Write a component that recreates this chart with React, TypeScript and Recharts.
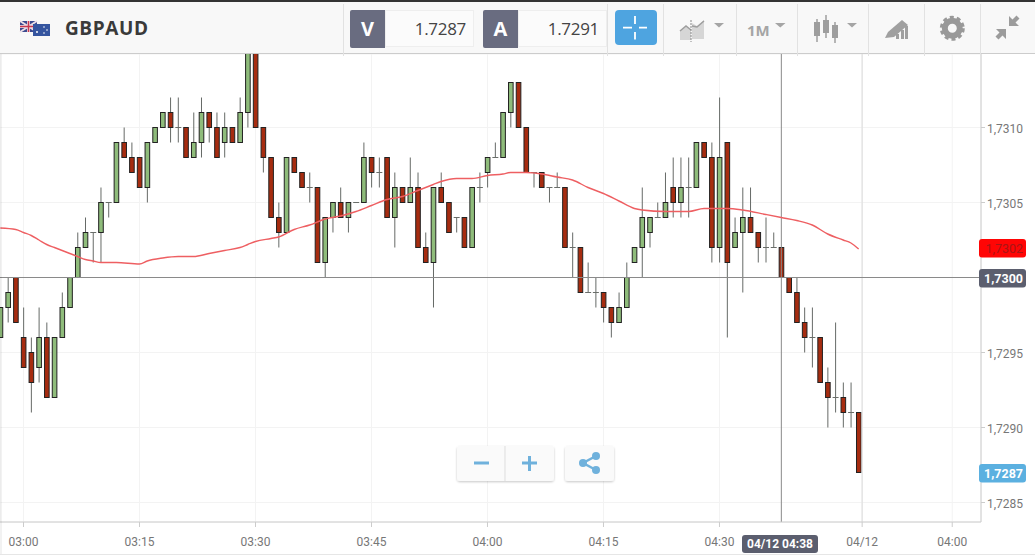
import { ComposedChart, Bar, Line, XAxis, YAxis, CartesianGrid, ReferenceLine, ReferenceDot } from 'recharts';

// minutes after 03:00, one candle per minute
const minutes = [
  -3, -2, -1, 0, 1, 2, 3, 4, 5, 6, 7, 8, 9, 10, 11, 12, 13, 14, 15, 16,
  17, 18, 19, 20, 21, 22, 23, 24, 25, 26, 27, 28, 29, 30, 31, 32, 33, 34, 35, 36,
  37, 38, 39, 40, 41, 42, 43, 44, 45, 46, 47, 48, 49, 50, 51, 52, 53, 54, 55, 56,
  57, 58, 59, 60, 61, 62, 63, 64, 65, 66, 67, 68, 69, 70, 71, 72, 73, 74, 75, 76,
  77, 78, 79, 80, 81, 82, 83, 84, 85, 86, 87, 88, 89, 90, 91, 92, 93, 94, 95, 96,
  97, 98, 99, 100, 101, 102, 103, 104, 105, 106, 107, 108,
];
const opens = [
  1.7296, 1.7298, 1.7300, 1.7296, 1.7295, 1.7294, 1.7296, 1.7292, 1.7296, 1.7298,
  1.7300, 1.7302, 1.7303, 1.7303, 1.7305, 1.7305, 1.7309, 1.7308, 1.7308, 1.7306,
  1.7309, 1.7310, 1.7311, 1.7310, 1.7310, 1.7308, 1.7309, 1.7311, 1.7310, 1.7309,
  1.7310, 1.7309, 1.7311, 1.7315, 1.7310, 1.7308, 1.7304, 1.7303, 1.7308, 1.7307,
  1.7306, 1.7306, 1.7301, 1.7304, 1.7305, 1.7304, 1.7305, 1.7305, 1.7308, 1.7307,
  1.7308, 1.7304, 1.7306, 1.7305, 1.7306, 1.7302, 1.7301, 1.7306, 1.7305, 1.7304,
  1.7304, 1.7302, 1.7306, 1.7307, 1.7308, 1.7308, 1.7311, 1.7313, 1.7310, 1.7307,
  1.7307, 1.7306, 1.7306, 1.7306, 1.7302, 1.7302, 1.7299, 1.7299, 1.7299, 1.7298,
  1.7297, 1.7298, 1.7301, 1.7302, 1.7303, 1.7304, 1.7304, 1.7306, 1.7305, 1.7306,
  1.7306, 1.7309, 1.7308, 1.7302, 1.7309, 1.7302, 1.7303, 1.7304, 1.7303, 1.7302,
  1.7302, 1.7302, 1.7300, 1.7299, 1.7297, 1.7296, 1.7296, 1.7293, 1.7292, 1.7292,
  1.7291, 1.7291,
];
const closes = [
  1.7298, 1.7299, 1.7297, 1.7294, 1.7293, 1.7296, 1.7292, 1.7296, 1.7298, 1.7300,
  1.7302, 1.7303, 1.7303, 1.7305, 1.7305, 1.7309, 1.7308, 1.7307, 1.7306, 1.7309,
  1.7310, 1.7311, 1.7310, 1.7310, 1.7308, 1.7309, 1.7311, 1.7310, 1.7308, 1.7310,
  1.7309, 1.7311, 1.7315, 1.7310, 1.7308, 1.7304, 1.7303, 1.7308, 1.7307, 1.7306,
  1.7306, 1.7301, 1.7304, 1.7305, 1.7304, 1.7305, 1.7305, 1.7308, 1.7307, 1.7307,
  1.7304, 1.7306, 1.7305, 1.7306, 1.7302, 1.7301, 1.7306, 1.7305, 1.7303, 1.7304,
  1.7302, 1.7306, 1.7306, 1.7308, 1.7308, 1.7311, 1.7313, 1.7310, 1.7307, 1.7307,
  1.7306, 1.7306, 1.7306, 1.7302, 1.7302, 1.7299, 1.7299, 1.7299, 1.7298, 1.7297,
  1.7298, 1.7300, 1.7302, 1.7304, 1.7304, 1.7304, 1.7305, 1.7305, 1.7306, 1.7306,
  1.7309, 1.7308, 1.7302, 1.7308, 1.7301, 1.7303, 1.7304, 1.7303, 1.7302, 1.7302,
  1.7302, 1.7300, 1.7299, 1.7297, 1.7296, 1.7296, 1.7293, 1.7292, 1.7292, 1.7291,
  1.7291, 1.7287,
];
const highs = [
  1.7298, 1.7300, 1.7300, 1.7298, 1.7296, 1.7298, 1.7297, 1.7296, 1.7299, 1.7300,
  1.7303, 1.7304, 1.7303, 1.7306, 1.7305, 1.7309, 1.7310, 1.7309, 1.7308, 1.7309,
  1.7310, 1.7311, 1.7312, 1.7312, 1.7310, 1.7311, 1.7312, 1.7311, 1.7311, 1.7311,
  1.7310, 1.7312, 1.7315, 1.7315, 1.7310, 1.7308, 1.7305, 1.7308, 1.7308, 1.7307,
  1.7307, 1.7306, 1.7304, 1.7305, 1.7306, 1.7305, 1.7305, 1.7309, 1.7308, 1.7308,
  1.7308, 1.7307, 1.7306, 1.7308, 1.7307, 1.7303, 1.7306, 1.7307, 1.7305, 1.7304,
  1.7304, 1.7306, 1.7307, 1.7308, 1.7309, 1.7311, 1.7313, 1.7313, 1.7310, 1.7307,
  1.7307, 1.7306, 1.7307, 1.7306, 1.7303, 1.7302, 1.7301, 1.7300, 1.7299, 1.7298,
  1.7299, 1.7301, 1.7302, 1.7306, 1.7304, 1.7305, 1.7307, 1.7308, 1.7308, 1.7308,
  1.7309, 1.7309, 1.7309, 1.7312, 1.7309, 1.7304, 1.7306, 1.7306, 1.7303, 1.7304,
  1.7303, 1.7302, 1.7300, 1.7300, 1.7298, 1.7298, 1.7296, 1.7294, 1.7297, 1.7293,
  1.7293, 1.7291,
];
const lows = [
  1.7296, 1.7297, 1.7297, 1.7294, 1.7291, 1.7293, 1.7292, 1.7292, 1.7296, 1.7298,
  1.7300, 1.7302, 1.7301, 1.7301, 1.7304, 1.7305, 1.7308, 1.7307, 1.7306, 1.7305,
  1.7309, 1.7310, 1.7309, 1.7309, 1.7308, 1.7308, 1.7308, 1.7309, 1.7308, 1.7308,
  1.7309, 1.7309, 1.7310, 1.7310, 1.7307, 1.7304, 1.7302, 1.7303, 1.7307, 1.7306,
  1.7305, 1.7301, 1.7300, 1.7303, 1.7304, 1.7303, 1.7305, 1.7305, 1.7306, 1.7306,
  1.7304, 1.7302, 1.7305, 1.7305, 1.7302, 1.7301, 1.7298, 1.7305, 1.7303, 1.7303,
  1.7302, 1.7302, 1.7305, 1.7306, 1.7308, 1.7308, 1.7310, 1.7310, 1.7307, 1.7306,
  1.7306, 1.7305, 1.7306, 1.7302, 1.7300, 1.7299, 1.7299, 1.7298, 1.7297, 1.7296,
  1.7297, 1.7298, 1.7301, 1.7300, 1.7302, 1.7304, 1.7304, 1.7304, 1.7304, 1.7304,
  1.7306, 1.7308, 1.7301, 1.7301, 1.7296, 1.7302, 1.7299, 1.7303, 1.7301, 1.7301,
  1.7302, 1.7300, 1.7299, 1.7297, 1.7295, 1.7294, 1.7293, 1.7290, 1.7291, 1.7290,
  1.7290, 1.7287,
];

const maMinutes = [
  -3, -1, 0, 1, 2, 3, 4, 5, 6, 7, 8, 9, 10, 12, 15, 16, 18, 20, 22, 24,
  26, 28, 29, 30, 32, 33, 35, 37, 39, 41, 43, 45, 47, 49, 51, 53, 54, 56, 58, 60,
  62, 63, 64, 65, 67, 69, 71, 73, 75, 77, 79, 80, 83, 86, 88, 91, 93, 96, 98, 100,
  102, 104, 106, 107, 108,
];
const maValues = [
  1.73033, 1.73032, 1.7303, 1.73028, 1.73025, 1.73022, 1.7302, 1.73018, 1.73016, 1.73014,
  1.73012, 1.73011, 1.7301, 1.7301, 1.73009, 1.73011, 1.73013, 1.73014, 1.73014, 1.73016,
  1.73018, 1.7302, 1.73022, 1.73024, 1.73026, 1.73027, 1.73032, 1.73035, 1.73039, 1.73041,
  1.73044, 1.73048, 1.73052, 1.73054, 1.73058, 1.73062, 1.73064, 1.73066, 1.73066, 1.73068,
  1.73069, 1.7307, 1.7307, 1.7307, 1.73069, 1.73067, 1.73065, 1.7306, 1.73056, 1.73051,
  1.73046, 1.73045, 1.73044, 1.73044, 1.73046, 1.73046, 1.73045, 1.73042, 1.7304, 1.73038,
  1.73035, 1.73029, 1.73025, 1.73023, 1.73019,
];

// 1,7300 has no tick of its own, the grey tag and the line show it
const priceTicks = [1.7285, 1.729, 1.7295, 1.7305, 1.731];
const timeTicks = [0, 15, 30, 45, 60, 75, 90, 108.45, 120.1];
const timeLabels = ['03:00', '03:15', '03:30', '03:45', '04:00', '04:15', '04:30', '04/12', '04:00'];

const maLast = 1.7302;
const crossPrice = 1.73;
const bidPrice = 1.7287;
const crossMinute = 98;

const chartData = minutes.map((m, i) => {
  const maIndex = maMinutes.indexOf(m);
  return {
    minute: m,
    open: opens[i],
    close: closes[i],
    high: highs[i],
    low: lows[i],
    ma: maIndex >= 0 ? maValues[maIndex] : null,
  };
});

const fmtPrice = (v: number) => v.toFixed(4).replace('.', ',');

const FONT = 'Roboto, "Open Sans", sans-serif';
const UI_FONT = '"Open Sans", Roboto, sans-serif';

// wick + body, the bar itself spans low..high
const Candle = (props: any) => {
  const { x, y, width, height, payload } = props;
  const { open, close, high, low } = payload;
  const cx = x + width / 2;
  const perUnit = high > low ? height / (high - low) : 0;
  const yOpen = y + (high - open) * perUnit;
  const yClose = y + (high - close) * perUnit;
  const top = Math.min(yOpen, yClose);
  const bodyH = Math.abs(yOpen - yClose);
  const up = close > open;
  return (
    <g>
      <line x1={cx} x2={cx} y1={y} y2={y + height} stroke="#666a67" strokeWidth={1} />
      {bodyH < 0.5 ? (
        <line x1={cx - 3} x2={cx + 3} y1={top} y2={top} stroke="#6a6e6a" strokeWidth={1} />
      ) : (
        <rect
          x={cx - 2.3}
          y={top}
          width={4.6}
          height={bodyH}
          fill={up ? '#8fbc7b' : '#a62c10'}
          stroke="#222"
          strokeWidth={1}
        />
      )}
    </g>
  );
};

const PriceTag = ({ cy, cx, text, fill, color, bold }: any) => (
  <g>
    <rect x={cx - 2} y={cy - 8.5} width={47} height={18.5} rx={3} fill={fill} />
    <text
      x={cx + 42}
      y={cy + 5}
      textAnchor="end"
      fontSize={12.5}
      fontWeight={bold ? 700 : 400}
      fontFamily={FONT}
      fill={color}
    >
      {text}
    </text>
  </g>
);

const Sep = ({ x }: { x: number }) => (
  <div style={{ position: 'absolute', left: x, top: 2, width: 1, height: 52, background: '#e2e2e2' }} />
);

const QuoteBox = ({ x, w, letter, value }: { x: number; w: number; letter: string; value: string }) => (
  <>
    <div
      style={{
        position: 'absolute', left: x, top: 8, width: 35, height: 38, background: '#696c80', color: '#fff',
        borderRadius: '2px 0 0 2px', fontWeight: 700, fontSize: 20, lineHeight: '38px', textAlign: 'center',
      }}
    >
      {letter}
    </div>
    <div
      style={{
        position: 'absolute', left: x + 35, top: 8, width: w - 35, height: 37, background: '#fbfbfb',
        border: '1px solid #eee', boxSizing: 'border-box', color: '#444', fontSize: 17, lineHeight: '36px',
        textAlign: 'right', paddingRight: 7, letterSpacing: -0.3,
      }}
    >
      {value}
    </div>
  </>
);

const Header = () => (
  <div
    style={{
      position: 'absolute', left: 0, top: 0, width: 1035, height: 54, background: '#f8f8f8',
      borderTop: '2px solid #333', borderBottom: '1px solid #ccc', boxSizing: 'border-box', fontFamily: UI_FONT,
    }}
  >
    <svg width={1035} height={52} style={{ position: 'absolute', left: 0, top: -2 }}>
      {/* flags */}
      <rect x={20} y={21} width={17} height={11} fill="#3b4a8f" />
      <path d="M20 21l17 11M37 21l-17 11" stroke="#ecdfe6" strokeWidth={2} />
      <path d="M28.5 21v11M20 26.5h17" stroke="#ecdfe6" strokeWidth={3} />
      <path d="M28.5 21v11M20 26.5h17" stroke="#c8384f" strokeWidth={1.5} />
      <rect x={33} y={24} width={17} height={12} fill="#35559f" />
      <circle cx={37} cy={32} r={1} fill="#fff" />
      <circle cx={44} cy={27} r={0.8} fill="#fff" />
      <circle cx={47} cy={30} r={0.8} fill="#fff" />
      <circle cx={44} cy={33} r={0.8} fill="#fff" />
      {/* crosshair button */}
      <rect x={615} y={10} width={42} height={35} rx={4} fill="#4ea4e0" />
      <path d="M623 27.7h9M639 27.7h8M635 16v8M635 32v7.5" stroke="#fff" strokeWidth={1.8} />
      {/* area chart icon */}
      <path d="M680 40v-9l6-5 5 4v10zM692 39V23l5 3 7-6v19z" fill="#d6d6d6" />
      <path d="M680 31l6-5 5 4M692 26l5 1 7-6" stroke="#9e9e9e" strokeWidth={1.5} fill="none" />
      <path d="M691 20v22" stroke="#888" strokeWidth={1} strokeDasharray="2 1" />
      <path d="M714 23h10l-5 4.5z" fill="#a5a5a5" />
      <path d="M775 23h10.5l-5.2 4.5z" fill="#a5a5a5" />
      {/* candles icon */}
      <path d="M817 19v23M826 15v23M835 22v21" stroke="#9e9e9e" strokeWidth={1.5} />
      <rect x={814} y={22} width={6} height={14} fill="#9e9e9e" />
      <rect x={823} y={20} width={6} height={13} fill="#9e9e9e" />
      <rect x={832} y={25} width={6} height={13} fill="#9e9e9e" />
      <path d="M847 23h10l-5 4.5z" fill="#a5a5a5" />
      {/* drawing icon */}
      <path d="M885 38l3-6 14-12 6 5-14 12z" fill="#a0a0a0" />
      <path d="M896 34h3v5h-3zM901 30h3v9h-3zM905 26h3v13h-3z" fill="#a0a0a0" />
      {/* gear */}
      <circle cx={952.3} cy={28.3} r={7.5} fill="none" stroke="#999" strokeWidth={6} />
      <circle cx={952.3} cy={28.3} r={11} fill="none" stroke="#999" strokeWidth={3} strokeDasharray="4 3" />
      {/* collapse */}
      <path d="M1009 26v-10l3.5 3.5 4-4 3 3-4 4 3.5 3.5zM1006 29v10l-3.5-3.5-4 4-3-3 4-4-3.5-3.5z" fill="#9c9c9c" />
    </svg>
    <div
      style={{
        position: 'absolute', left: 65, top: 13, fontSize: 19, lineHeight: '26px', fontWeight: 700,
        color: '#3a3a3a', letterSpacing: 0.6,
      }}
    >
      GBPAUD
    </div>
    <QuoteBox x={350} w={124} letter="V" value="1.7287" />
    <QuoteBox x={483} w={124} letter="A" value="1.7291" />
    <Sep x={343} />
    <Sep x={607} />
    <Sep x={663} />
    <Sep x={736} />
    <Sep x={797} />
    <Sep x={868} />
    <Sep x={924} />
    <Sep x={980} />
    <div style={{ position: 'absolute', left: 747, top: 18, fontSize: 15, lineHeight: '20px', fontWeight: 700, color: '#a5a5a5' }}>
      1M
    </div>
  </div>
);

const ZoomButtons = () => (
  <svg width={1035} height={556} style={{ position: 'absolute', left: 0, top: 0, pointerEvents: 'none' }}>
    <defs>
      <filter id="btnShadow" x="-10%" y="-10%" width="120%" height="130%">
        <feDropShadow dx={0} dy={1} stdDeviation={1} floodColor="#000" floodOpacity={0.22} />
      </filter>
    </defs>
    <rect x={457} y={446} width={97} height={35} rx={3} fill="#fafafa" filter="url(#btnShadow)" />
    <rect x={565} y={446} width={49} height={35} rx={3} fill="#fafafa" filter="url(#btnShadow)" />
    <path d="M505 446v35" stroke="#ddd" strokeWidth={1} />
    <path d="M474 463h15M522 463h15M529.5 456v15" stroke="#6fb1dc" strokeWidth={3} />
    <path d="M596 456l-13 7 13 7" stroke="#6fb1dc" strokeWidth={2.5} fill="none" />
    <circle cx={596} cy={456} r={4} fill="#6fb1dc" />
    <circle cx={583} cy={463} r={4} fill="#6fb1dc" />
    <circle cx={596} cy={470} r={4} fill="#6fb1dc" />
  </svg>
);

const App = () => (
  <div style={{ position: 'absolute', left: 0, top: 0, width: 1035, height: 556, background: '#fff', overflow: 'hidden' }}>
    <ComposedChart
      width={1035}
      height={556}
      data={chartData}
      margin={{ top: 54, right: 0, bottom: 0, left: 0 }}
    >
      <CartesianGrid stroke="#f3f3f3" strokeWidth={1} />
      <XAxis
        dataKey="minute"
        type="number"
        domain={[-3.04, 123.82]}
        allowDataOverflow
        ticks={timeTicks}
        interval={0}
        height={34}
        tickSize={5}
        tickMargin={10}
        stroke="#ccc"
        tick={{ fontSize: 12, fill: '#777', fontFamily: FONT }}
        tickFormatter={(v: number) => timeLabels[timeTicks.indexOf(v)]}
      />
      <YAxis
        orientation="right"
        type="number"
        domain={[1.72837, 1.73149]}
        allowDataOverflow
        ticks={priceTicks}
        interval={0}
        width={54}
        tickSize={4}
        tickMargin={2}
        stroke="#ccc"
        tick={{ fontSize: 12, fill: '#777', fontFamily: FONT, dy: 1 }}
        tickFormatter={fmtPrice}
      />
      <ReferenceLine x={timeTicks[7]} stroke="#e4e4e4" strokeWidth={1.5} />
      <Bar
        dataKey={(d: any) => [d.low, d.high]}
        barSize={4}
        shape={Candle}
        isAnimationActive={false}
      />
      <ReferenceLine y={crossPrice} stroke="#8a8a8a" strokeWidth={1} />
      <ReferenceLine x={crossMinute} stroke="#8a8a8a" strokeWidth={1} />
      <Line
        dataKey="ma"
        type="monotone"
        connectNulls
        dot={false}
        stroke="#ee5f62"
        strokeWidth={1.4}
        isAnimationActive={false}
      />
      <ReferenceDot
        x={123.82}
        y={maLast}
        ifOverflow="visible"
        shape={(p: any) => <PriceTag {...p} text={fmtPrice(maLast)} fill="#ff0505" color="#a81616" />}
      />
      <ReferenceDot
        x={123.82}
        y={crossPrice}
        ifOverflow="visible"
        shape={(p: any) => <PriceTag {...p} text={fmtPrice(crossPrice)} fill="#5b5e6e" color="#fff" bold />}
      />
      <ReferenceDot
        x={123.82}
        y={bidPrice}
        ifOverflow="visible"
        shape={(p: any) => <PriceTag {...p} text={fmtPrice(bidPrice)} fill="#5bb0e0" color="#fff" bold />}
      />
    </ComposedChart>
    <Header />
    <ZoomButtons />
    <div
      style={{
        position: 'absolute', left: 742, top: 535, width: 76, height: 18, background: '#5b5e6e', color: '#fff',
        borderRadius: 3, fontFamily: FONT, fontWeight: 700, fontSize: 12, lineHeight: '18px', textAlign: 'center',
      }}
    >
      04/12 04:38
    </div>
    <div style={{ position: 'absolute', left: 0, top: 54, width: 2, height: 500, background: 'rgba(0,0,0,0.05)' }} />
    <div style={{ position: 'absolute', left: 0, top: 554, width: 1035, height: 1, background: '#e6e6e6' }} />
  </div>
);

export default App;
